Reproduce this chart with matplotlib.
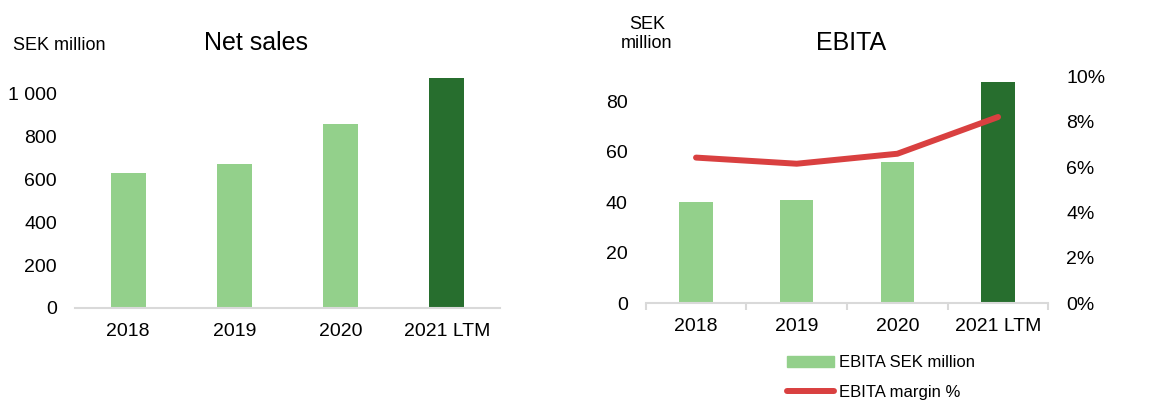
import matplotlib.pyplot as plt
import numpy as np
from matplotlib.patches import Patch
from matplotlib.lines import Line2D

plt.rcParams['font.family'] = ['Liberation Sans', 'DejaVu Sans']

# data
years = ["2018", "2019", "2020", "2021 LTM"]
netSales = [631, 673, 859, 1073]
ebita = [40.3, 41.0, 56.2, 87.8]
ebitaMargin = [6.42, 6.15, 6.59, 8.21]

light = "#93D08B"
dark = "#276E2E"
red = "#D94040"
gray = "#D9D9D9"
barColors = [light, light, light, dark]

fig = plt.figure(figsize=(11.74, 4.0), dpi=100)
x = np.arange(len(years))

# ---- Net sales ----
ax1 = fig.add_axes([0.0639, 0.23, 0.362, 0.59])
ax1.bar(x, netSales, width=0.33, color=barColors)
ax1.set_xlim(-0.5, 3.5)
ax1.set_ylim(0, 1100)
ax1.set_yticks([0, 200, 400, 600, 800, 1000])
ax1.set_yticklabels(["0", "200", "400", "600", "800", "1 000"])
ax1.set_xticks(x)
ax1.set_xticklabels(years)
for s in ["top", "right", "left"]:
    ax1.spines[s].set_visible(False)
ax1.spines["bottom"].set_color(gray)
ax1.spines["bottom"].set_linewidth(1.5)
ax1.tick_params(axis="y", length=0, pad=13, labelsize=14)
ax1.tick_params(axis="x", length=0, pad=11, labelsize=14)
fig.text(0.011, 0.885, "SEK million", fontsize=13, ha="left", va="center")
fig.text(0.218, 0.893, "Net sales", fontsize=18, ha="center", va="center")

# ---- EBITA ----
ax2 = fig.add_axes([0.55, 0.242, 0.343, 0.567])
ax2.bar(x, ebita, width=0.33, color=barColors)
ax2.set_xlim(-0.5, 3.5)
ax2.set_ylim(0, 90)
ax2.set_yticks([0, 20, 40, 60, 80])
ax2.set_xticks(x)
ax2.set_xticklabels(years)
ax2.set_xticks(np.arange(-0.5, 4, 1), minor=True)
for s in ["top", "right", "left"]:
    ax2.spines[s].set_visible(False)
ax2.spines["bottom"].set_color(gray)
ax2.spines["bottom"].set_linewidth(1.5)
ax2.tick_params(axis="y", length=0, pad=13, labelsize=14)
ax2.tick_params(axis="x", which="major", length=0, pad=11, labelsize=14)
ax2.tick_params(axis="x", which="minor", length=5, width=1.5, color=gray)

ax3 = ax2.twinx()
ax3.plot(x, ebitaMargin, color=red, linewidth=4.3, solid_capstyle="round")
ax3.set_ylim(0, 10)
ax3.set_yticks([0, 2, 4, 6, 8, 10])
ax3.set_yticklabels(["%d%%" % v for v in [0, 2, 4, 6, 8, 10]])
for s in ["top", "right", "left", "bottom"]:
    ax3.spines[s].set_visible(False)
ax3.tick_params(axis="y", length=0, pad=13, labelsize=14)

fig.text(0.551, 0.915, "SEK\nmillion", fontsize=13, ha="center", va="center", linespacing=1.1)
fig.text(0.725, 0.893, "EBITA", fontsize=18, ha="center", va="center")

# legend under the EBITA chart
handles = [Patch(color=light), Line2D([], [], color=red, linewidth=4.3, solid_capstyle="round")]
fig.legend(handles, ["EBITA SEK million", "EBITA margin %"], loc="upper left",
           bbox_to_anchor=(0.665, 0.128), frameon=False, fontsize=12,
           handlelength=2.8, handletextpad=0.3, labelspacing=0.85, borderaxespad=0)

fig.savefig("out.png", dpi=100)
